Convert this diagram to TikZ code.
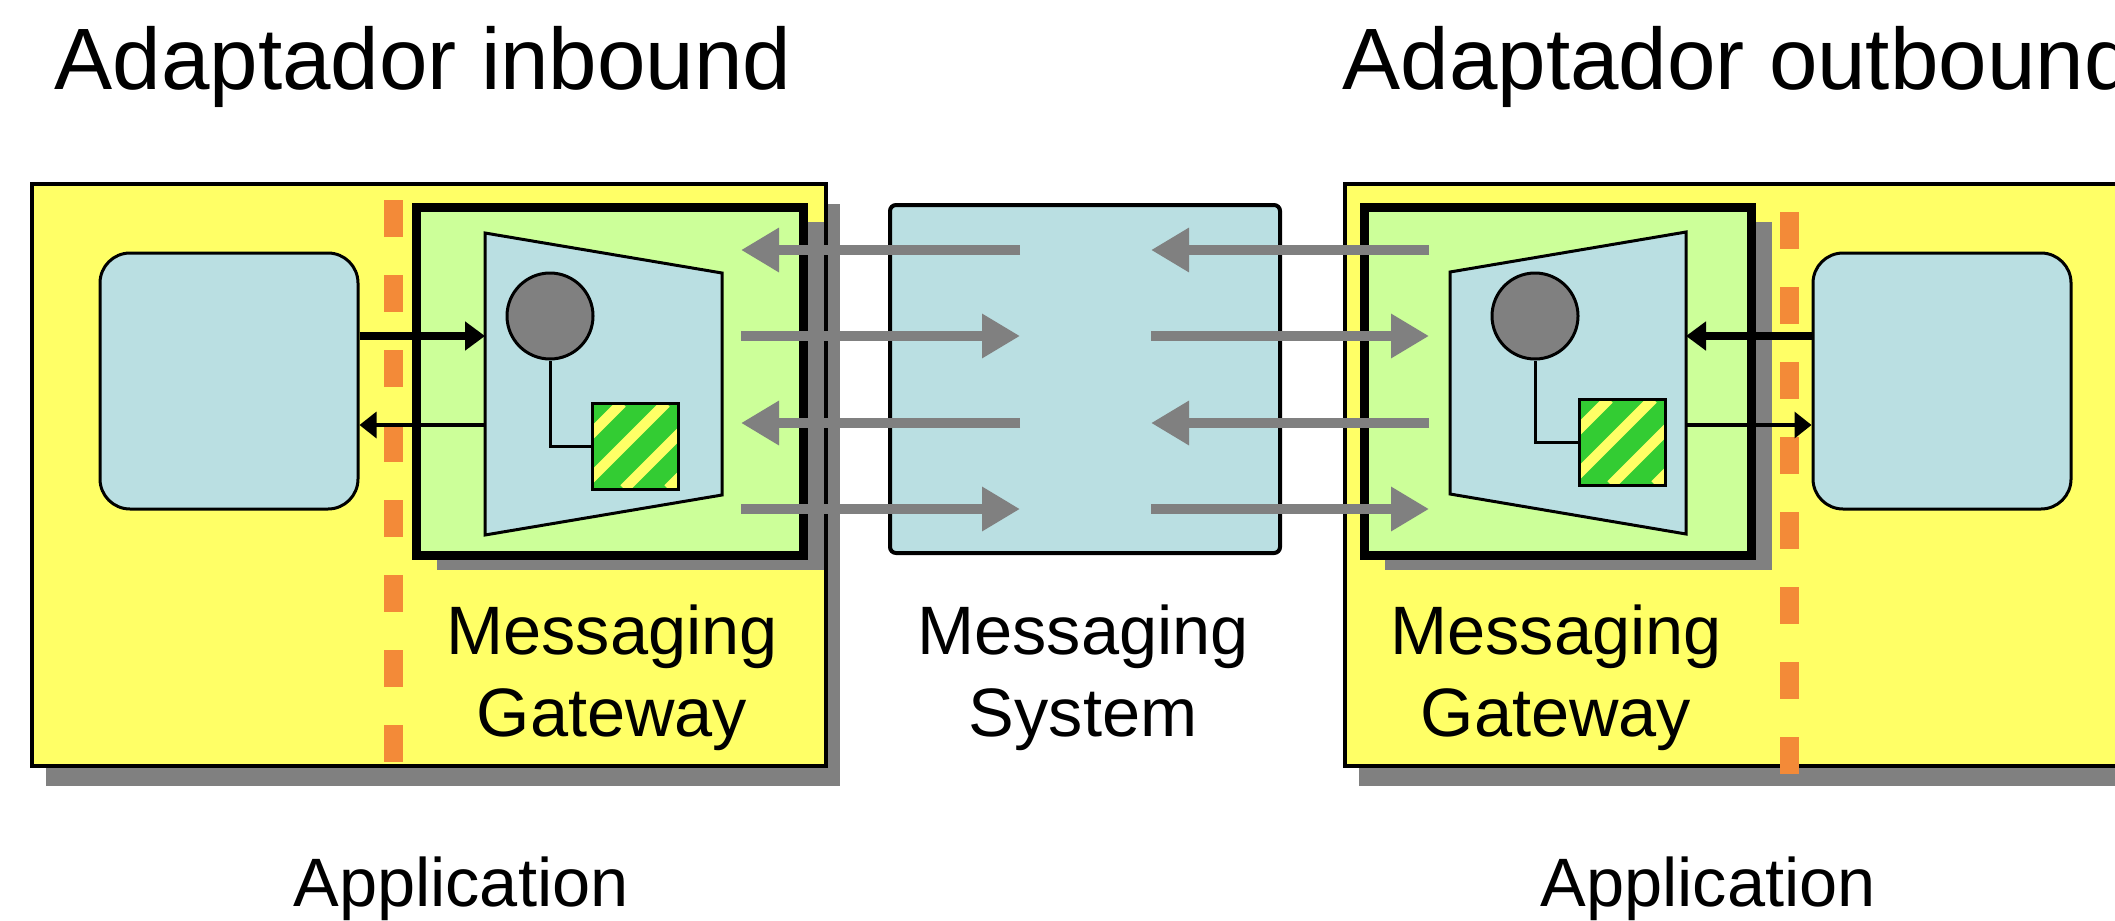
\documentclass[tikz,border=0pt]{standalone}
\usepackage{fontspec}
\setmainfont{Liberation Sans}
\usetikzlibrary{arrows.meta,shadows}
\definecolor{appyellow}{HTML}{FFFF66}
\definecolor{gwgreen}{HTML}{CCFF99}
\definecolor{sysblue}{HTML}{BADFE2}
\definecolor{msggray}{HTML}{808080}
\definecolor{edgeorange}{HTML}{F38A38}
\definecolor{cvtgreen}{HTML}{33CC33}
\tikzset{
  appbox/.style={rectangle, draw, line width=0.4mm, fill=appyellow,
    minimum width=79.4mm, minimum height=58.2mm,
    drop shadow={shadow xshift=1.4mm, shadow yshift=-2mm, opacity=1, fill=msggray}},
  gatebox/.style={rectangle, draw, line width=0.9mm, fill=gwgreen,
    minimum width=38.7mm, minimum height=34.8mm,
    drop shadow={shadow xshift=2mm, shadow yshift=-1.4mm, opacity=1, fill=msggray}},
  endbox/.style={rectangle, rounded corners=3mm, draw, line width=0.3mm,
    fill=sysblue, minimum width=25.8mm, minimum height=25.6mm},
  sysbox/.style={rectangle, rounded corners=0.6mm, draw, line width=0.4mm,
    fill=sysblue, minimum width=39mm, minimum height=34.8mm},
  adapter/.style={draw, line width=0.3mm, fill=sysblue},
  proc/.style={circle, draw, line width=0.3mm, fill=msggray,
    minimum size=8.6mm, inner sep=0pt},
  cvt/.style={rectangle, draw, line width=0.3mm, fill=cvtgreen,
    minimum size=8.6mm, inner sep=0pt,
    path picture={\foreach \k in {-3,...,2}
      \draw[appyellow, line width=1.05mm]
        ([xshift=3.2mm+\k*4.4mm]path picture bounding box.south west) -- ++(8.6mm,8.6mm);}},
  wire/.style={line width=0.3mm},
  boundary/.style={draw=edgeorange, line width=1.9mm, dash pattern=on 3.7mm off 3.8mm},
  msg/.style={draw=msggray, line width=1mm, -{Triangle[length=3.8mm, width=4.2mm]}},
  call/.style={line width=0.8mm, -{Triangle[length=2mm, width=2.8mm]}},
  reply/.style={line width=0.35mm, -{Triangle[length=1.7mm, width=2.6mm]}},
  title/.style={font=\fontsize{24.8}{29}\selectfont, anchor=base west, inner sep=0pt},
  lbl/.style={font=\fontsize{19.5}{23.3}\selectfont, align=center, anchor=north, inner sep=0pt},
}

\begin{document}
\begin{tikzpicture}[x=0.1mm, y=-0.1mm]
  \useasboundingbox (0,0) rectangle (2115,920);
  \clip (0,0) rectangle (2115,920);

  \node[title] (tin) at (54,89) {Adaptador inbound};
  \node[title] (tout) at (1342,89) {Adaptador outbound};

  \node[appbox] (appL) at (429,475) {};
  \node[appbox] (appR) at (1742,475) {};
  \draw[boundary] (393,200) -- (393,762);
  \draw[boundary] (1789,212) -- (1789,774);

  \node[gatebox] (gwL) at (610,381.5) {};
  \node[gatebox] (gwR) at (1558,381.5) {};
  \node[endbox] (endL) at (229,381) {};
  \node[endbox] (endR) at (1942,381) {};

  \draw[adapter] (485,233) -- (722,273) -- (722,495) -- (485,535) -- cycle;
  \draw[adapter] (1450,272) -- (1686,232) -- (1686,534) -- (1450,494) -- cycle;
  \coordinate (inL) at (485,336);
  \coordinate (outL) at (485,425);
  \coordinate (inR) at (1686,336);
  \coordinate (outR) at (1686,425);

  \node[proc] (procL) at (550,316) {};
  \node[cvt] (cvtL) at (635,446) {};
  \node[proc] (procR) at (1535,316) {};
  \node[cvt] (cvtR) at (1622,442) {};
  \draw[wire] (procL) |- (cvtL);
  \draw[wire] (procR) |- (cvtR);

  \draw[call] (endL.east |- inL) -- (inL);
  \draw[reply] (outL) -- (endL.east |- outL);
  \draw[call] (endR.west |- inR) -- (inR);
  \draw[reply] (outR) -- (endR.west |- outR);

  \node[sysbox] (sys) at (1085,379) {};

  \foreach \n/\y in {1/250,2/336,3/423,4/509} {
    \coordinate (gl\n) at (741,\y);
    \coordinate (sl\n) at (1020,\y);
    \coordinate (sr\n) at (1151,\y);
    \coordinate (gr\n) at (1429,\y);
  }
  \draw[msg] (sl1) -- (gl1);
  \draw[msg] (gl2) -- (sl2);
  \draw[msg] (sl3) -- (gl3);
  \draw[msg] (gl4) -- (sl4);
  \draw[msg] (gr1) -- (sr1);
  \draw[msg] (sr2) -- (gr2);
  \draw[msg] (gr3) -- (sr3);
  \draw[msg] (sr4) -- (gr4);

  \node[lbl] (gwLtxt) at (612,604) {Messaging\\Gateway};
  \node[lbl] (systxt) at (1083,604) {Messaging\\System};
  \node[lbl] (gwRtxt) at (1556,604) {Messaging\\Gateway};
  \node[lbl] (appLtxt) at (461,856) {Application};
  \node[lbl] (appRtxt) at (1708,856) {Application};
\end{tikzpicture}
\end{document}
